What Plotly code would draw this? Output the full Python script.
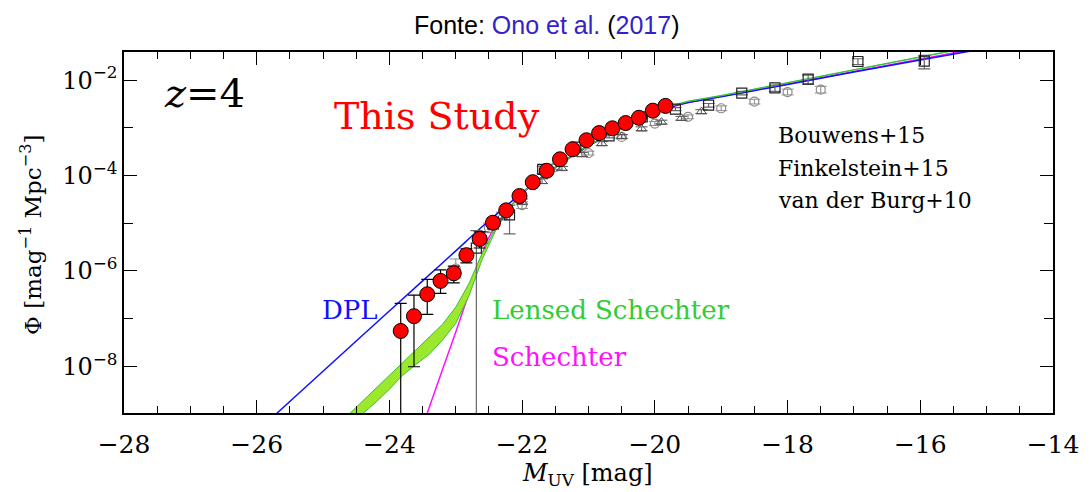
import numpy as np
import plotly.graph_objects as go

# ---------------- data ----------------
# This Study (Ono et al.) : M_UV, log10 Phi, upper / lower error bounds (log10)
ono_M = [-23.83, -23.63, -23.43, -23.23, -23.03, -22.84, -22.64, -22.44, -22.24, -22.04,
         -21.84, -21.63, -21.43, -21.24, -21.03, -20.84, -20.64, -20.44, -20.24, -20.03, -19.84]
ono_log = [-7.26, -6.95, -6.49, -6.21, -6.05, -5.67, -5.33, -4.99, -4.73, -4.43,
           -4.14, -3.90, -3.66, -3.45, -3.26, -3.11, -3.01, -2.90, -2.79, -2.64, -2.54]
ono_log_hi = [-6.68, -6.51, -6.18, -5.98, -5.90, -5.54, -5.18, -4.88, -4.65, -4.37,
              -4.09, -3.86, -3.62, -3.42, -3.23, -3.08, -2.98, -2.88, -2.77, -2.62, -2.52]
ono_log_lo = [-12.0, -8.01, -6.91, -6.47, -6.25, -5.83, -5.52, -5.12, -4.82, -4.50,
              -4.20, -3.95, -3.70, -3.49, -3.29, -3.14, -3.04, -2.93, -2.81, -2.66, -2.56]

# Bouwens+15 (open squares): M, Phi, error
bou_M = [-22.69, -22.19, -21.69, -21.19, -20.69, -20.19, -19.69, -19.19, -18.69, -18.19, -17.69, -16.94, -15.94]
bou_phi = [3.0e-6, 1.5e-5, 1.34e-4, 3.93e-4, 6.78e-4, 1.696e-3, 2.475e-3, 2.984e-3, 5.352e-3,
           6.865e-3, 1.0473e-2, 2.458e-2, 2.508e-2]
bou_err = [4.0e-6, 9.0e-6, 2.3e-5, 4.0e-5, 6.3e-5, 1.13e-4, 1.85e-4, 2.55e-4, 4.46e-4,
           1.043e-3, 2.229e-3, 3.5e-3, 7.86e-3]

# Finkelstein+15 (open circles): M, log10 Phi, error (dex)
fin_M = [-23.0, -22.5, -22.0, -21.5, -21.0, -20.5, -20.0, -19.5, -19.0, -18.5, -18.0, -17.5]
fin_log = [-5.95, -5.10, -4.62, -3.82, -3.53, -3.19, -2.91, -2.77, -2.59, -2.45, -2.25, -2.20]
fin_dex = [0.20, 0.10, 0.07, 0.05, 0.04, 0.04, 0.04, 0.04, 0.05, 0.05, 0.06, 0.07]

# van der Burg+10 (open triangles): M, log10 Phi, error (dex)
vdb_M = [-22.6, -22.3, -22.0, -21.7, -21.4, -21.1, -20.8, -20.5, -20.2, -19.9, -19.6, -19.3]
vdb_log = [-5.30, -4.85, -4.55, -4.12, -3.85, -3.56, -3.33, -3.18, -3.02, -2.88, -2.80, -2.66]
vdb_dex = [0.12, 0.08, 0.06, 0.05, 0.04, 0.04, 0.04, 0.04, 0.04, 0.04, 0.04, 0.04]

# Model curves (log10 Phi)
dpl_M = [-26.0, -25.7, -24.5, -23.5, -23.0, -22.6, -22.3, -22.0, -21.7, -21.4, -21.1, -20.8,
         -20.5, -20.2, -19.85, -19.5, -19.0, -18.0, -17.0, -16.0, -15.0]
dpl_log = [-9.37, -8.99, -7.47, -6.21, -5.58, -5.07, -4.71, -4.36, -4.03, -3.73, -3.46, -3.22,
           -3.00, -2.80, -2.60, -2.47, -2.35, -2.09, -1.83, -1.58, -1.33]

sch_M = [-23.5, -23.43, -23.2, -23.0, -22.8, -22.69, -22.54, -22.4, -22.2, -22.0, -21.7, -21.4,
         -21.1, -20.8, -20.5, -20.2, -19.85, -19.5, -19.0, -18.0, -17.0, -16.0, -15.0]
sch_log = [-9.26, -8.99, -8.07, -7.28, -6.47, -5.99, -5.40, -5.04, -4.69, -4.37, -4.04, -3.73,
           -3.46, -3.22, -3.01, -2.81, -2.60, -2.47, -2.34, -2.08, -1.82, -1.56, -1.30]

lens_M = [-24.8, -24.6, -24.4, -24.2, -24.0, -23.8, -23.6, -23.4, -23.2, -23.0, -22.8, -22.6,
          -22.4, -22.2, -22.0, -21.7, -21.4, -21.1, -20.8, -20.5, -20.2, -19.85, -19.5, -19.0,
          -18.0, -17.0, -16.0, -15.0]
lens_log_hi = [-9.26, -8.99, -8.72, -8.46, -8.19, -7.92, -7.65, -7.38, -7.12, -6.76, -6.26, -5.62,
               -5.11, -4.68, -4.35, -4.03, -3.72, -3.45, -3.21, -3.00, -2.80, -2.57, -2.44, -2.32,
               -2.05, -1.78, -1.51, -1.24]
lens_log_lo = [-9.50, -9.26, -8.99, -8.75, -8.48, -8.19, -7.96, -7.75, -7.45, -7.10, -6.52, -5.75,
               -5.16, -4.70, -4.37, -4.04, -3.73, -3.46, -3.22, -3.01, -2.81, -2.58, -2.45, -2.33,
               -2.06, -1.79, -1.52, -1.25]

x_ticks = [-28, -26, -24, -22, -20, -18, -16, -14]
y_ticks = [1e-2, 1e-4, 1e-6, 1e-8]
y_ticktext = ["10<sup>\u22122</sup>", "10<sup>\u22124</sup>", "10<sup>\u22126</sup>", "10<sup>\u22128</sup>"]

# ---------------- figure ----------------
SERIF = "DejaVu Serif"
BLUE = "#1010ff"
GREEN_EDGE = "#3cbf3c"
GREEN_FILL = "#9be82c"
MAGENTA = "#ff10ff"

p = lambda a: (10.0 ** np.asarray(a, dtype=float))

fig = go.Figure()

# Schechter (magenta)
fig.add_trace(go.Scatter(x=sch_M, y=p(sch_log), mode="lines",
                         line=dict(color=MAGENTA, width=1.5), hoverinfo="skip"))
# DPL (blue)
fig.add_trace(go.Scatter(x=dpl_M, y=p(dpl_log), mode="lines",
                         line=dict(color=BLUE, width=1.5, shape="spline", smoothing=0.6), hoverinfo="skip"))
# Lensed Schechter band (green)
fig.add_trace(go.Scatter(x=lens_M, y=p(lens_log_hi), mode="lines",
                         line=dict(color=GREEN_EDGE, width=1), hoverinfo="skip"))
fig.add_trace(go.Scatter(x=lens_M, y=p(lens_log_lo), mode="lines", fill="tonexty",
                         fillcolor=GREEN_FILL, line=dict(color=GREEN_EDGE, width=1), hoverinfo="skip"))

# Finkelstein+15
fin_phi = p(fin_log)
fig.add_trace(go.Scatter(
    x=fin_M, y=fin_phi, mode="markers",
    marker=dict(symbol="circle-open", size=9, color="#8a8a8a", line=dict(width=1.2)),
    error_y=dict(type="data", symmetric=False,
                 array=p(np.array(fin_log) + np.array(fin_dex)) - fin_phi,
                 arrayminus=fin_phi - p(np.array(fin_log) - np.array(fin_dex)),
                 color="#8a8a8a", thickness=1, width=6)))

# van der Burg+10
vdb_phi = p(vdb_log)
fig.add_trace(go.Scatter(
    x=vdb_M, y=vdb_phi, mode="markers",
    marker=dict(symbol="triangle-up-open", size=9, color="#555555", line=dict(width=1)),
    error_y=dict(type="data", symmetric=False,
                 array=p(np.array(vdb_log) + np.array(vdb_dex)) - vdb_phi,
                 arrayminus=vdb_phi - p(np.array(vdb_log) - np.array(vdb_dex)),
                 color="#555555", thickness=1, width=6)))

# Bouwens+15
bphi = np.array(bou_phi)
berr = np.array(bou_err)
bminus = np.where(bphi - berr <= 0, bphi - 1e-12, berr)
fig.add_trace(go.Scatter(
    x=bou_M, y=bphi, mode="markers",
    marker=dict(symbol="square-open", size=10, color="#222222", line=dict(width=1.2)),
    error_y=dict(type="data", symmetric=False, array=berr, arrayminus=bminus,
                 color="#666666", thickness=1.2, width=6)))

# This Study
ophi = p(ono_log)
fig.add_trace(go.Scatter(
    x=ono_M, y=ophi, mode="markers",
    marker=dict(symbol="circle", size=15, color="#ff0000", line=dict(color="#000000", width=1)),
    error_y=dict(type="data", symmetric=False,
                 array=p(ono_log_hi) - ophi, arrayminus=ophi - p(ono_log_lo),
                 color="#000000", thickness=1.2, width=6)))

axis_common = dict(showline=True, linecolor="black", linewidth=1.5, mirror="ticks",
                   ticks="inside", tickcolor="black", tickwidth=1.2, ticklen=13,
                   showgrid=False, zeroline=False)

fig.update_xaxes(range=[-28, -14], tickmode="array", tickvals=x_ticks,
                 ticktext=["\u2212%d" % abs(v) for v in x_ticks],
                 tickfont=dict(family=SERIF, size=25, color="black"),
                 ticklabelstandoff=8,
                 minor=dict(dtick=0.5, ticks="inside", ticklen=7, tickcolor="black", tickwidth=1),
                 **axis_common)
fig.update_yaxes(type="log", range=[-8.98, -1.41], tickmode="array", tickvals=y_ticks,
                 ticktext=y_ticktext,
                 tickfont=dict(family=SERIF, size=24, color="black"),
                 minor=dict(tickmode="array", tickvals=[1e-3, 1e-5, 1e-7, 1e-9], ticks="inside",
                            ticklen=9, tickcolor="black", tickwidth=1),
                 **axis_common)

ann = []
def txt(x, y, s, size, color="black", xanchor="center", family=SERIF):
    ann.append(dict(x=x, y=y, xref="paper", yref="paper", text=s, showarrow=False,
                    xanchor=xanchor, yanchor="middle",
                    font=dict(family=family, size=size, color=color)))

W, H = 1091, 492
L, R, T, B = 124, 1062, 52, 413
def px(xp): return (xp - L) / (R - L)
def py(yp): return (B - yp) / (B - T)

txt(px(205), py(93), "<i>z</i>=4", 40)
txt(px(440), py(116), "This Study", 38, "#ff0000")
txt(px(782), py(135), "Bouwens+15", 22, xanchor="left")
txt(px(782), py(168), "Finkelstein+15", 22, xanchor="left")
txt(px(782), py(201), "van der Burg+10", 22, xanchor="left")
txt(px(322), py(310), "DPL", 26, BLUE, xanchor="left")
txt(px(494), py(310), "Lensed Schechter", 26, "#33cc33", xanchor="left")
txt(px(494), py(357), "Schechter", 26, MAGENTA, xanchor="left")

# axis titles
ann.append(dict(x=px(592), y=py(474), xref="paper", yref="paper", showarrow=False,
                text="<i>M</i><sub>UV</sub> [mag]", xanchor="center", yanchor="middle",
                font=dict(family=SERIF, size=24, color="black")))
ann.append(dict(x=px(30), y=py(235), xref="paper", yref="paper", showarrow=False,
                text="\u03a6 [mag<sup>\u22121</sup> Mpc<sup>\u22123</sup>]", textangle=-90,
                xanchor="center", yanchor="middle",
                font=dict(family=SERIF, size=23, color="black")))
# title
ann.append(dict(x=px(551), y=py(25), xref="paper", yref="paper", showarrow=False,
                text="Fonte: <span style='color:#3322cc'>Ono et al.</span> (<span style='color:#3322cc'>2017</span>)",
                xanchor="center", yanchor="middle",
                font=dict(family="Liberation Sans", size=25, color="black")))

fig.update_layout(width=W, height=H, margin=dict(l=L, r=W - R, t=T, b=H - B),
                  plot_bgcolor="white", paper_bgcolor="white", showlegend=False,
                  annotations=ann)

fig.write_html("out.html", config={"displayModeBar": False},
               post_script="document.body.style.margin='0';document.body.style.overflow='hidden';")
